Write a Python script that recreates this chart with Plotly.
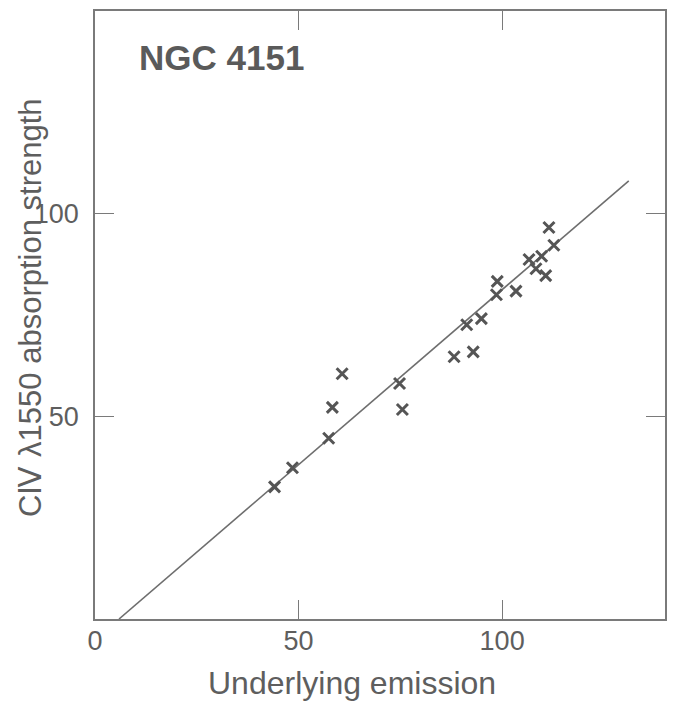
import plotly.graph_objects as go

# Data
emission = [44.1, 48.5, 57.4, 58.3, 60.7, 74.8, 75.5, 88.2, 92.9, 91.3,
            94.9, 98.6, 98.8, 103.4, 106.6, 108.3, 109.7, 110.7, 112.7, 111.5]
absorption = [32.6, 37.3, 44.6, 52.2, 60.5, 58.1, 51.7, 64.7, 65.9, 72.6,
              74.1, 80.0, 83.3, 80.9, 88.7, 86.4, 89.5, 84.7, 92.2, 96.6]
fit_x = [5.9, 131.1]
fit_y = [0.0, 108.1]
x_ticks = [0, 50, 100]
y_ticks = [50, 100]

TXT = "#5e5e5e"
LN = "#7a7a7a"
FONT = "Liberation Sans, Arial, sans-serif"

fig = go.Figure()
fig.add_trace(go.Scatter(x=fit_x, y=fit_y, mode="lines",
                         line=dict(color="#6e6e6e", width=1.6), showlegend=False,
                         hoverinfo="skip"))
fig.add_trace(go.Scatter(x=emission, y=absorption, mode="markers",
                         marker=dict(symbol="x-thin", size=11,
                                     line=dict(color="#555555", width=3)),
                         showlegend=False))

axis_common = dict(showgrid=False, zeroline=False, showline=True, mirror="ticks",
                   linecolor=LN, linewidth=1.5, ticks="inside", ticklen=19,
                   tickwidth=1.3, tickcolor=LN,
                   tickfont=dict(family=FONT, size=27, color=TXT))

fig.update_layout(
    width=676, height=702,
    margin=dict(l=95, r=9, t=9, b=83),
    paper_bgcolor="white", plot_bgcolor="white",
    xaxis=dict(range=[0, 140], tickvals=x_ticks, ticklabelstandoff=-3, **axis_common),
    yaxis=dict(range=[0, 150], tickvals=y_ticks, ticklabelstandoff=9, **axis_common),
    annotations=[
        dict(text="NGC 4151", xref="paper", yref="paper", x=0.0734, y=0.923,
             xanchor="left", yanchor="middle", showarrow=False,
             font=dict(family=FONT, size=35, color="#5a5a5a", weight="bold")),
        dict(text="Underlying emission", xref="paper", yref="paper", x=0.451, y=-0.106,
             xanchor="center", yanchor="middle", showarrow=False,
             font=dict(family=FONT, size=32, color=TXT)),
        dict(text="C\u2163 \u03bb1550 absorption strength", xref="paper", yref="paper",
             x=-0.113, y=0.511, textangle=-90,
             xanchor="center", yanchor="middle", showarrow=False,
             font=dict(family=FONT, size=31, color=TXT)),
    ],
)

fig.write_html("out.html", config={"displayModeBar": False},
               post_script="document.body.style.margin='0';document.body.style.overflow='hidden';")
